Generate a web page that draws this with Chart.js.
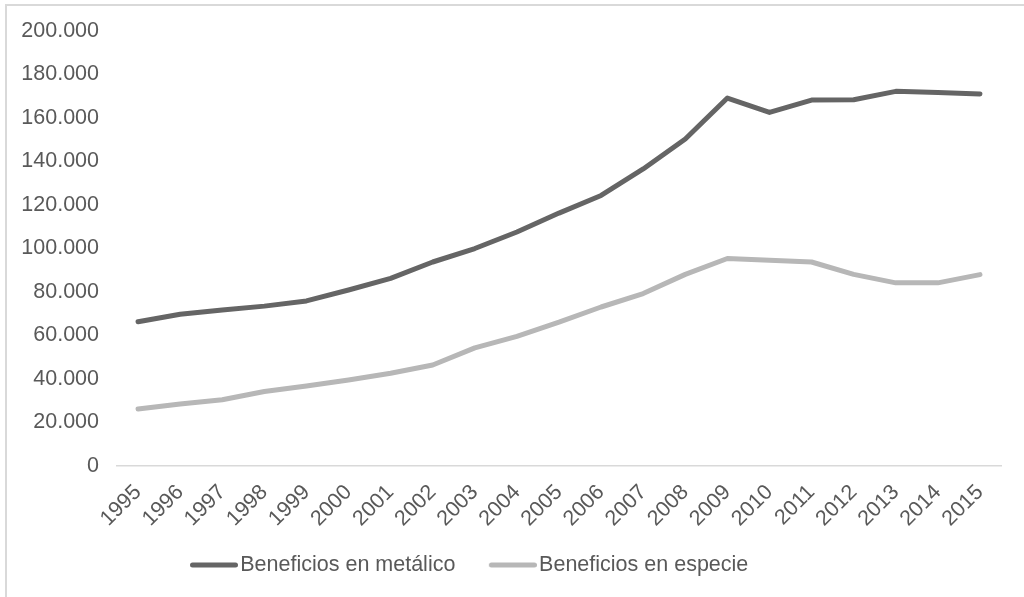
<!DOCTYPE html>
<html><head><meta charset="utf-8">
<script src="https://cdn.jsdelivr.net/npm/chart.js@4/dist/chart.umd.min.js"></script>
<style>
html,body{margin:0;padding:0;background:#fff;overflow:hidden;width:1024px;height:597px}
#frame{position:absolute;left:5px;top:4px;width:1040px;height:620px;border:2px solid #d9d9d9;box-sizing:border-box}
#c{position:absolute;left:0;top:0}
</style></head><body>
<div id="frame"></div>
<canvas id="c" width="1024" height="597"></canvas>
<script>
const years = ['1995','1996','1997','1998','1999','2000','2001','2002','2003','2004','2005','2006','2007','2008','2009','2010','2011','2012','2013','2014','2015'];
const metalico = [66200,69700,71600,73400,75800,80800,86200,93700,99900,107500,116200,124300,136500,150300,169100,162500,168200,168300,172200,171700,171000];
const especie = [26100,28400,30300,34100,36700,39400,42500,46300,54200,59500,66000,73000,79200,88000,95300,94500,93700,88000,84100,84100,87900];
const yTickLabels = ['0','20.000','40.000','60.000','80.000','100.000','120.000','140.000','160.000','180.000','200.000'];
const seriesNames = ['Beneficios en metálico','Beneficios en especie'];
const seriesColors = ['#656565','#b7b7b7'];

const FONT = {family: "'Liberation Sans', Arial, Helvetica, sans-serif", size: 21.5};
const TEXT = '#595959';
const AREA_BOTTOM = 465.7;
const LEGEND_LEFT = 156.5;
const LEGEND_TOP = 544.25;

function legendIcon(color){
  const cv = document.createElement('canvas');
  cv.width = 80; cv.height = 8;
  const g = cv.getContext('2d');
  g.strokeStyle = color; g.lineWidth = 5; g.lineCap = 'round';
  g.beginPath(); g.moveTo(80 - 48 + 2.5, 4); g.lineTo(80 - 2.5, 4); g.stroke();
  return cv;
}
const icons = seriesColors.map(legendIcon);

const placeLegend = {
  id: 'placeLegend',
  afterLayout(chart){
    const lg = chart.legend;
    const dx = LEGEND_LEFT - lg.left, dy = LEGEND_TOP - lg.top;
    lg.left += dx; lg.right += dx; lg.top += dy; lg.bottom += dy;
  }
};

new Chart(document.getElementById('c'), {
  type: 'line',
  data: {
    labels: years,
    datasets: [
      {label: seriesNames[0], data: metalico, borderColor: seriesColors[0], backgroundColor: seriesColors[0]},
      {label: seriesNames[1], data: especie, borderColor: seriesColors[1], backgroundColor: seriesColors[1]}
    ]
  },
  options: {
    responsive: false,
    animation: false,
    devicePixelRatio: 1,
    layout: {padding: {top: 29.2, right: 23, bottom: 0, left: 0}},
    elements: {
      line: {borderWidth: 5, tension: 0, borderJoinStyle: 'round', borderCapStyle: 'round', fill: false},
      point: {radius: 0, hoverRadius: 0}
    },
    scales: {
      x: {
        type: 'category',
        offset: true,
        grid: {display: false, drawTicks: false},
        border: {display: true, color: '#d9d9d9', width: 1.5},
        ticks: {color: TEXT, font: FONT, minRotation: 45, maxRotation: 45, autoSkip: false, padding: 14},
        afterFit(s){ s.height = s.chart.height - s.chart.legend.height - AREA_BOTTOM; }
      },
      y: {
        min: 0, max: 200000,
        grid: {display: false, drawTicks: false},
        border: {display: false},
        ticks: {stepSize: 20000, color: TEXT, font: FONT, padding: 18,
          callback: (v, i) => yTickLabels[i]},
        afterFit(s){ s.width = 117; }
      }
    },
    plugins: {
      tooltip: {enabled: false},
      legend: {
        position: 'bottom',
        align: 'start',
        labels: {
          color: TEXT, font: FONT, usePointStyle: true, pointStyleWidth: 63, padding: 10,
          generateLabels: () => seriesNames.map((n, i) => ({
            text: n, fillStyle: seriesColors[i], strokeStyle: seriesColors[i], lineWidth: 0,
            pointStyle: icons[i], datasetIndex: i, hidden: false, fontColor: TEXT
          }))
        }
      }
    }
  },
  plugins: [placeLegend]
});
</script>
</body></html>
